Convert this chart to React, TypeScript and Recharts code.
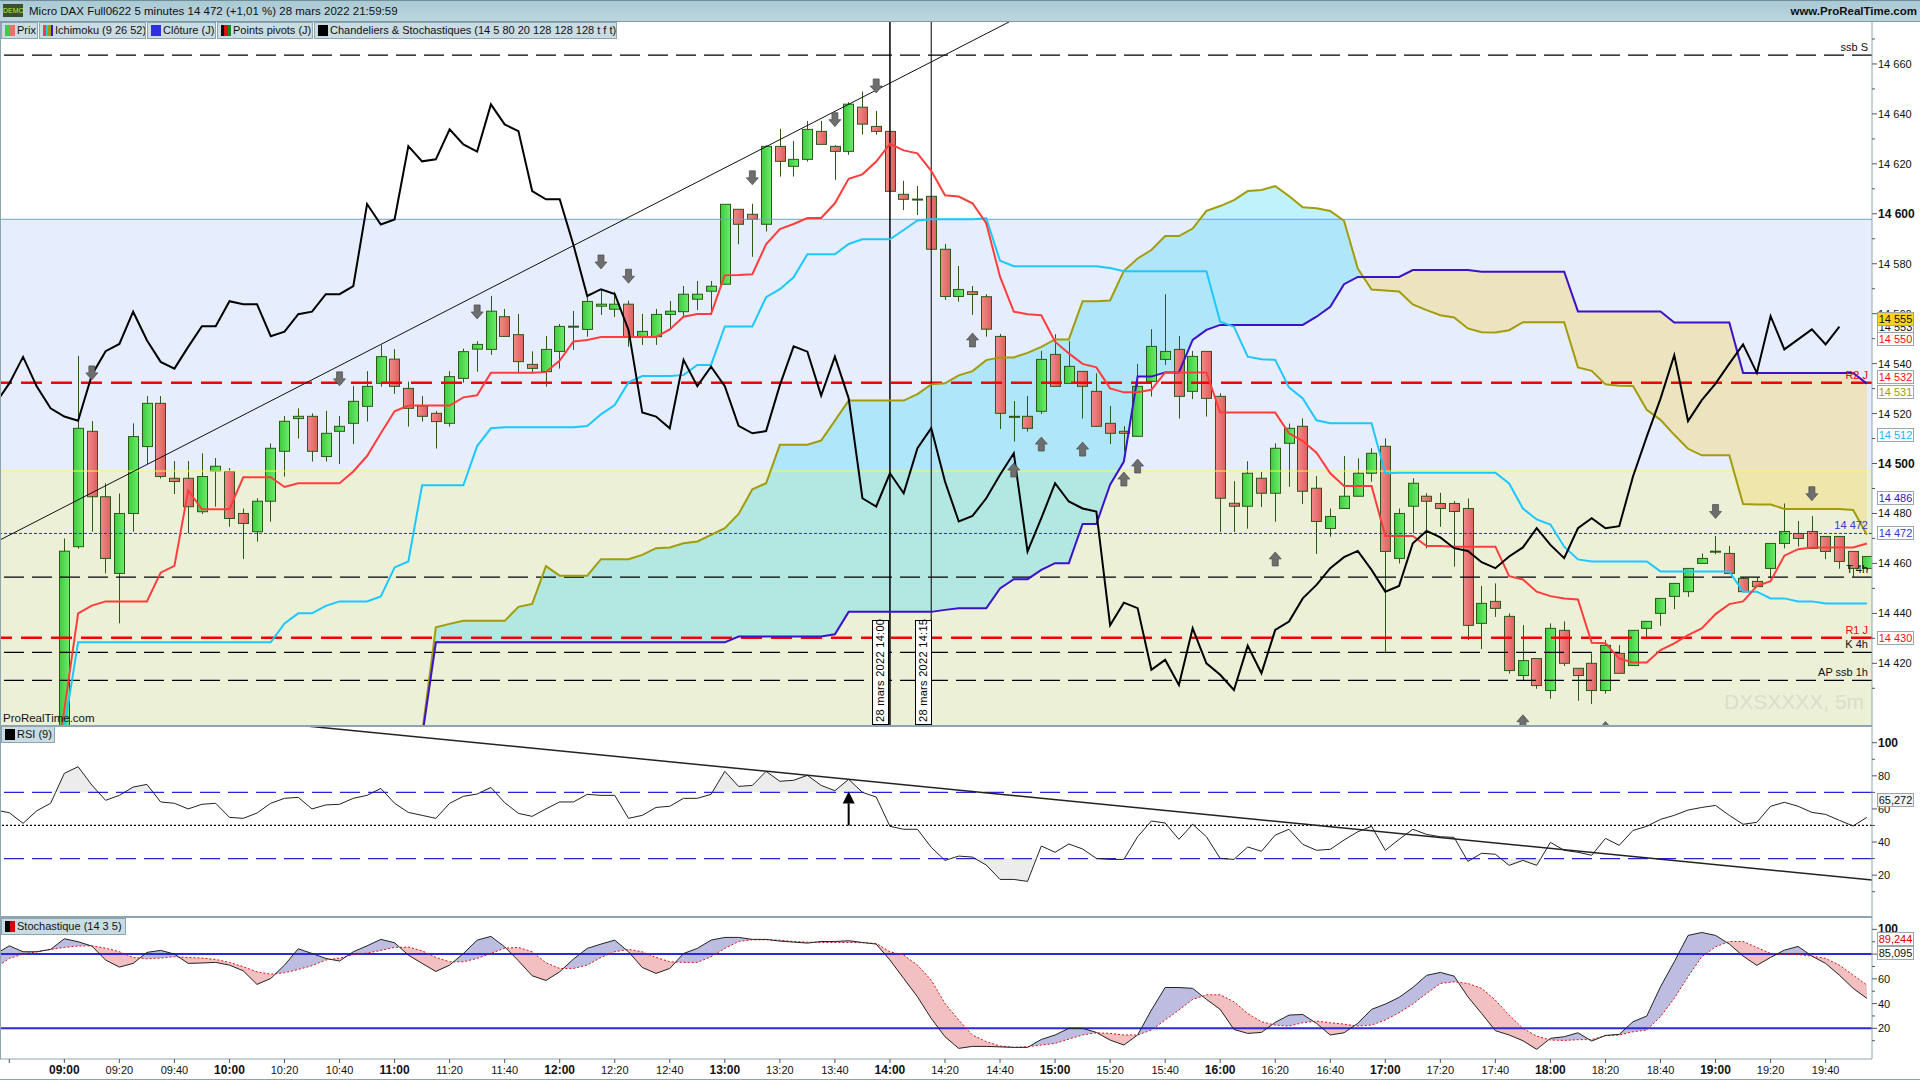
import { Area, Bar, ComposedChart, Line, ReferenceArea, ReferenceLine, XAxis, YAxis } from 'recharts'

// price bars, index 0 = 08:40, one bar every 5 minutes
const barOpen = [null, null, null, null,
  14380, 14466.7, 14512.9, 14486.7, 14456, 14480, 14506.8, 14524.1, 14494.1, 14494.1, 14480.7, 14497, 14496.8, 14480, 14472.7, 14484.9,
  14504.9, 14518, 14518.9, 14502.8, 14512.9, 14516.1, 14522.9, 14532.1, 14541.8, 14530.1, 14523, 14520.1, 14516.1, 14534.1, 14545.8, 14545.7,
  14558.8, 14551.6, 14539.7, 14536.8, 14544.9, 14554.9, 14553.7, 14563, 14561.8, 14563.8, 14550.9, 14550.8, 14559.7, 14560.8, 14565.8, 14569,
  14571.8, 14601.8, 14599.8, 14595.8, 14627, 14619, 14621.8, 14633, 14627, 14625, 14642.7, 14635, 14633, 14607.8, 14605.9, 14607, 14585.8, 14566.9,
  14568.8, 14566.8, 14550.9, 14518.9, 14518.9, 14520.9, 14543.7, 14532.1, 14536.9, 14528.9, 14516.1, 14512.9, 14510.9, 14532.9, 14541.7, 14545.7,
  14528.9, 14544.9, 14526.9, 14484.1, 14482.9, 14494.1, 14488.1, 14508.1, 14514.9, 14490.1, 14474, 14482, 14486.9, 14496.1, 14506.9, 14462,
  14482.9, 14486.9, 14484, 14484, 14482, 14436, 14444.8, 14438.8, 14415.1, 14421.9, 14409.1, 14433.2, 14418, 14420, 14409.1, 14424,
  14419.1, 14434, 14440, 14446.8, 14448.7, 14460, 14464.9, 14464, 14454, 14452.8, 14458, 14468, 14472, 14472.8, 14470.8, 14470.8, 14464.8, 14458]
const barHigh = [null, null, null, null,
  14470, 14543.1, 14517, 14492.1, 14488, 14516.1, 14527, 14527, 14501, 14501, 14504.1, 14502.2, 14498.2, 14482, 14486.1, 14508.1,
  14519, 14522.1, 14520.1, 14521.1, 14519, 14531, 14537, 14547.5, 14545.8, 14532.8, 14527, 14521, 14537, 14546, 14549, 14567.1,
  14561.9, 14559.9, 14544.9, 14551.1, 14555.9, 14561.1, 14566.8, 14569.5, 14568.8, 14565.2, 14559.9, 14561.9, 14565.1, 14571.1, 14573.1, 14573.1,
  14603.8, 14601.8, 14604, 14627.5, 14634, 14629.2, 14637.2, 14637.2, 14627.5, 14644.7, 14649, 14641.2, 14633, 14613.2, 14611.1, 14607, 14587.9, 14579.1,
  14571.1, 14567.8, 14551.9, 14525, 14527, 14545.1, 14551.8, 14549, 14537, 14536.1, 14523, 14515, 14539.9, 14553.8, 14567.8, 14551.1,
  14545.1, 14544.9, 14528.1, 14492.9, 14500.9, 14496.6, 14508.1, 14516, 14518.1, 14495, 14482, 14503, 14502.1, 14506.1, 14510.1, 14482,
  14494.1, 14488.1, 14488.3, 14485, 14486, 14451, 14452, 14440, 14435.3, 14421.9, 14436, 14436.8, 14418, 14424, 14429.3, 14427.3,
  14433.2, 14436.8, 14446, 14452, 14458, 14464, 14471, 14467, 14454.5, 14454.4, 14468, 14484, 14477, 14479, 14470.8, 14470.8, 14464.8, 14462.8]
const barLow = [null, null, null, null,
  14375, 14465.9, 14472.7, 14456, 14436, 14472.7, 14499.8, 14494, 14487.8, 14472.1, 14479.8, 14482.7, 14474.7, 14461.8, 14468.7, 14476.7,
  14494.8, 14510, 14500.8, 14500.8, 14499.8, 14507.8, 14516.8, 14530.8, 14527.9, 14514.8, 14516.8, 14506, 14514.8, 14532.4, 14536.8, 14543.5,
  14550.9, 14536.4, 14536.1, 14530.8, 14538, 14545.5, 14550.8, 14559.5, 14558.7, 14546.8, 14547.5, 14547.5, 14553.7, 14558.8, 14561.5, 14559.9,
  14571.8, 14587.8, 14582.8, 14592.9, 14614.9, 14614.9, 14620.9, 14627.8, 14613.6, 14623.6, 14631.7, 14631.7, 14609, 14601.5, 14599.5, 14585.8, 14565.5, 14564.8,
  14559.5, 14550.8, 14513.8, 14508.8, 14512.8, 14519.8, 14530.9, 14532, 14518, 14514.9, 14507.8, 14504.8, 14510.9, 14526.8, 14539.5, 14518,
  14525.8, 14518.8, 14472.6, 14472.6, 14473.9, 14482.6, 14476.7, 14490.7, 14483.8, 14463.8, 14470.7, 14482, 14486.9, 14492.7, 14424, 14460,
  14472.1, 14466, 14474.7, 14458.7, 14429.3, 14425.7, 14438.6, 14415.9, 14413.3, 14409.8, 14405.8, 14418.9, 14405, 14403.7, 14407.9, 14416,
  14419, 14429.7, 14435, 14441.7, 14446.6, 14460, 14463.7, 14456, 14448.7, 14450.7, 14454, 14466, 14466.7, 14466, 14461.7, 14457.9, 14454.7, 14457.3]
const barClose = [null, null, null, null,
  14464.9, 14514.1, 14486.7, 14462, 14480, 14510.8, 14524.1, 14494.8, 14492.8, 14482.7, 14494.8, 14498.9, 14478, 14476, 14484.9, 14506.1,
  14516.9, 14518.9, 14504.9, 14512.1, 14514.9, 14524.9, 14530.9, 14542.8, 14530.9, 14522.1, 14518.9, 14516.8, 14534.8, 14544.8, 14547.7, 14561,
  14550.9, 14540.8, 14538.1, 14545.7, 14554.9, 14555, 14564.9, 14563.8, 14563.8, 14550.8, 14552.9, 14559.7, 14561, 14567.8, 14567.8, 14571,
  14603.8, 14595.8, 14597.8, 14627, 14621, 14621.8, 14633.8, 14627.8, 14625, 14643.9, 14635.9, 14633, 14609, 14605.8, 14605.8, 14585.8, 14566.9, 14569.7,
  14567.7, 14553.8, 14520.1, 14518.7, 14514.1, 14541.7, 14530.9, 14538.9, 14530.9, 14514.9, 14512.1, 14512.1, 14530.9, 14546.9, 14544.9, 14526.9,
  14542.9, 14526.1, 14486.1, 14482.9, 14496.1, 14488.1, 14506.1, 14514.1, 14488.9, 14476.8, 14478.8, 14486.9, 14496.1, 14504.1, 14464.8, 14480,
  14492.1, 14484.9, 14482, 14480.8, 14435.2, 14444, 14442, 14417.1, 14421.1, 14411.1, 14434, 14420, 14415.1, 14409.1, 14427.2, 14416,
  14433.2, 14436.8, 14446, 14452, 14458, 14462, 14464.8, 14456, 14448.7, 14450.7, 14468, 14472.8, 14470, 14466, 14464.8, 14460.8, 14458, 14462.8]

// ichimoku lines
const tenkan = [null, null, null, 14363,
  14401.6, 14440, 14443.1, 14444.8, 14444.8, 14444.8, 14444.8, 14456.3, 14459, 14489.2, 14481.7, 14481.7, 14481.7, 14494.5, 14494.5, 14494.5,
  14490.6, 14492.1, 14492.1, 14492.1, 14492.1, 14496.8, 14503, 14512.1, 14520.9, 14523.2, 14523.2, 14523.2, 14523.2, 14526.5, 14527.3, 14536.4,
  14536.4, 14536.4, 14536.4, 14536.6, 14541.2, 14548.9, 14549.5, 14550.7, 14550.7, 14550.7, 14550.7, 14550.7, 14553.7, 14558.8, 14559.9, 14559.9,
  14575.4, 14575.5, 14575.8, 14587.8, 14593.9, 14595.9, 14598.3, 14598.3, 14604.2, 14614, 14615.8, 14620.9, 14628, 14625.4, 14624.2, 14617.2, 14607.4, 14606.9,
  14604.2, 14596.2, 14574.8, 14560.8, 14559.8, 14559.4, 14548.8, 14544.1, 14539.9, 14538.5, 14530.1, 14528.5, 14528.5, 14529.5, 14536.5, 14536.5,
  14536.5, 14536.5, 14520.4, 14520.4, 14520.4, 14520.4, 14520.4, 14512.1, 14509, 14504.3, 14496.1, 14491, 14491, 14491, 14471, 14471,
  14471, 14467, 14467, 14466.7, 14466.7, 14466.7, 14466.7, 14454.9, 14453.6, 14448.7, 14446.9, 14446, 14445.6, 14428.2, 14428, 14421.9,
  14420.3, 14420.3, 14425.3, 14428, 14431.3, 14434, 14439.7, 14443.7, 14444.8, 14450.9, 14452.9, 14463.1, 14465.7, 14466.4, 14466.4, 14466.4, 14466.4, 14468]
const kijun = [null, null, null, 14360,
  14394.2, 14428.4, 14428.4, 14428.4, 14428.4, 14428.4, 14428.4, 14428.4, 14428.4, 14428.4, 14428.4, 14428.4, 14428.4, 14428.4, 14428.4, 14428.4,
  14436, 14440, 14440, 14443, 14444.8, 14444.8, 14444.8, 14446.8, 14458.4, 14460.8, 14491.3, 14491.3, 14491.3, 14491.3, 14507, 14514.1,
  14514.5, 14514.5, 14514.5, 14514.5, 14514.5, 14514.5, 14515, 14519.7, 14523.4, 14532.5, 14535, 14535, 14535, 14535.4, 14539.5, 14539.5,
  14554.9, 14554.9, 14554.9, 14566.6, 14569.8, 14574.6, 14583.8, 14583.8, 14583.8, 14587.9, 14589.8, 14589.8, 14589.8, 14593.5, 14597.3, 14597.8, 14597.8, 14597.8,
  14597.8, 14598.2, 14581.2, 14579, 14579, 14579, 14579, 14579, 14579, 14579, 14578.3, 14577, 14577, 14577, 14577, 14577,
  14577, 14577, 14556.8, 14554.8, 14542.8, 14541.8, 14541.5, 14530.5, 14526.1, 14517.3, 14516.1, 14516.1, 14516.1, 14516.1, 14496.1, 14496.3,
  14496.3, 14496.3, 14496.3, 14496.3, 14496.3, 14496.3, 14496.3, 14492, 14482, 14477.6, 14475.6, 14466.7, 14461.6, 14460.8, 14460.8, 14460.8,
  14460.8, 14460.8, 14456.8, 14456.8, 14456.8, 14456.8, 14456.8, 14456.8, 14448.7, 14448.7, 14446, 14446, 14444.8, 14444.8, 14444, 14444, 14444, 14444]
const senkouA = [...Array(30).fill(null),
  14392, 14434.4, 14435.8, 14437, 14437, 14437, 14437, 14442.6, 14443.8, 14458.9, 14455.1, 14455.1, 14455.1, 14461.7, 14461.7, 14461.7, 14463.4, 14466.1, 14466.4, 14468.1, 14468.8, 14471.4,
  14474.1, 14479.8, 14489.7, 14492.1, 14507.5, 14507.5, 14507.5, 14509.2, 14517.2, 14525.2, 14525.2, 14525.2, 14525.2, 14525.2, 14527.8, 14531.7, 14532.1, 14535.3,
  14537, 14541.4, 14542.5, 14542.5, 14544.3, 14546.7, 14549.7, 14549.7, 14565, 14565, 14565.3, 14577.2, 14582.1, 14585.5, 14591.1, 14591.1,
  14594.1, 14601.2, 14603.1, 14605.5, 14609.1, 14609.5, 14611.1, 14607.1, 14602.6, 14602.2, 14601.1, 14597.2, 14578.1, 14569.7, 14569.3, 14568.9,
  14563.7, 14561.4, 14559.4, 14558.5, 14554.1, 14552.6, 14552.5, 14553.4, 14556.6, 14556.6, 14556.6, 14556.6, 14538.5, 14537.1, 14531.7, 14531.1,
  14531, 14521.5, 14517.5, 14511.5, 14505.9, 14503.3, 14503.3, 14503.3, 14483.8, 14483.6, 14483.6, 14481.8, 14481.8, 14481.8, 14481.8, 14481.8, 14481.4, 14471.5]
const senkouB = [...Array(30).fill(null),
  14390.5, 14428.4, 14428.4, 14428.4, 14428.4, 14428.4, 14428.4, 14428.4, 14428.4, 14428.4, 14428.4, 14428.4, 14428.4, 14428.4, 14428.4, 14428.4, 14428.4, 14428.4, 14428.4, 14428.4, 14428.4, 14428.4,
  14428.4, 14430.7, 14430.7, 14430.7, 14430.7, 14430.7, 14430.7, 14430.7, 14431.6, 14440.6, 14440.6, 14440.6, 14440.6, 14440.6, 14440.6, 14440.6, 14441.4, 14442,
  14442, 14442, 14450, 14453.7, 14453.7, 14457.4, 14460.1, 14460.1, 14475.8, 14475.8, 14491.5, 14500.8, 14534.8, 14534.8, 14536.5, 14536.5,
  14549.5, 14553.5, 14555.5, 14555.5, 14555.5, 14555.5, 14555.5, 14555.5, 14555.5, 14558.8, 14562.8, 14571.8, 14574.7, 14574.7, 14574.7, 14574.7,
  14577.5, 14577.5, 14577.5, 14577.5, 14577.5, 14576.8, 14576.8, 14576.8, 14576.8, 14576.8, 14576.8, 14576.8, 14560.9, 14560.9, 14560.9, 14560.9,
  14560.9, 14560.9, 14560.9, 14556.5, 14556.5, 14556.5, 14556.5, 14556.5, 14536.3, 14536.3, 14536.3, 14536.3, 14536.3, 14536.3, 14536.3, 14536.3, 14536.3, 14532]
const chikou = [
  14532.1, 14542.7, 14530.8, 14522.1, 14518.8, 14517.1, 14535.5, 14545, 14547.9, 14560.8, 14549.4, 14540.7, 14538, 14546.7, 14555, 14555, 14565, 14563.8, 14563.8, 14551,
  14552.8, 14559.8, 14560.8, 14567.8, 14567.8, 14571, 14603.9, 14595.7, 14597.7, 14627.1, 14621, 14621.8, 14633.8, 14627.8, 14624.9, 14643.8,
  14635.8, 14633.1, 14609.1, 14605.8, 14605.8, 14587.5, 14567.1, 14569.8, 14567.9, 14553.5, 14520.4, 14518.8, 14514.1, 14541.5, 14531, 14538.8,
  14531, 14515.1, 14512.1, 14513, 14531.4, 14546.9, 14544.8, 14527.2, 14542.8, 14526.1, 14486.1, 14482.8, 14496.1, 14488.1, 14506.1, 14514.2, 14492.8, 14476.8,
  14479, 14486.1, 14495.5, 14504.1, 14464.8, 14478.1, 14492.1, 14484.8, 14482, 14480.8, 14435.2, 14444.3, 14442.1, 14417.4, 14421.4, 14411.3,
  14434, 14420, 14415.4, 14409.3, 14427.1, 14416, 14433.4, 14436.7, 14446, 14451.4, 14458.1, 14462.5, 14465, 14457.4, 14448.7, 14451,
  14468.1, 14473, 14470.4, 14466.1, 14465, 14460.5, 14458.1, 14462.8, 14466.4, 14474.1, 14467.4, 14462.1, 14474.1, 14478.1, 14474.1, 14474.9,
  14494.8, 14510.8, 14526, 14543.4, 14517, 14525.4, 14532, 14540, 14547.7, 14536.3, 14559, 14545.7, 14549.7, 14553.7, 14547.7, 14554.8, null, null]
const chikouLead = 14524

// signal arrows: bar index and price
const arrowDownBars = [6, 24, 34, 43, 45, 54, 60, 63, 124, 131]
const arrowDownPrices = [14536.3, 14533.9, 14560.7, 14580.7, 14575, 14614.4, 14637.7, 14651.2, 14480.8, 14487.9]
const arrowUpBars = [70, 73, 75, 78, 81, 82, 92, 110, 116]
const arrowUpPrices = [14549.5, 14497.4, 14507.8, 14505.8, 14493.8, 14499, 14461.8, 14396.6, 14393.9]

const rsi = [
  57.7, 51.3, 58.9, 63.4, 81.5, 85.5, 74.4, 65.2, 68.2, 73.2, 74.8, 64.2, 63.4, 60, 62.8, 63.4, 54.9, 54.3, 57.5, 63.4,
  66.4, 67, 60, 62.4, 62.8, 66.4, 68.2, 72.4, 63.4, 57.9, 56.1, 54.3, 63.4, 67.6, 69, 73,
  63.8, 57.3, 55.5, 60, 64.2, 64.2, 68.8, 68.2, 68.2, 54.3, 56.1, 60.9, 61.6, 66.4, 66.4, 68.8,
  82.7, 73.6, 74.2, 82.7, 76.7, 77.3, 80.3, 74.2, 71, 77.9, 70, 67.2, 49.5, 47.7, 47.7, 36.8, 28.9, 31.5,
  30.9, 26.1, 17.4, 17.4, 16.2, 37.6, 33.8, 38.8, 35.8, 30.1, 29.5, 29.5, 43.2, 52.7, 51.5, 41.6,
  50.7, 43.2, 30.1, 29.5, 37, 34.4, 44.2, 47.7, 38.6, 35, 35.6, 41.2, 46.2, 49.5, 35, 41.6,
  47.7, 44.6, 43.2, 42.8, 28.3, 33.2, 32.6, 25.9, 28.9, 25.9, 39.8, 35, 33.8, 32, 42.2, 38,
  47, 49.5, 53.7, 56.1, 59.3, 60.9, 62.1, 56.1, 50.7, 51.9, 61.6, 64, 61.6, 57.9, 56.7, 53.1, 49.7, 54.9]
const rsiLead = 59.3
const rsiArrowBar = 61

const stochK = [
  86.7, 81.9, 81.9, 83.8, 92.4, 90, 86.5, 75.2, 69.5, 72.5, 81.4, 83, 80, 72.5, 72.8, 73.3, 71.1, 66.5, 55.5, 60.3,
  71.1, 84.3, 80.5, 76.5, 74.4, 81.9, 86.7, 91.9, 89.2, 79.2, 72.5, 66, 71.1, 80.5, 91.3, 94.3,
  85.9, 74.6, 62.5, 58.7, 65.7, 76, 84.6, 88.1, 91.3, 81.9, 69.2, 64.4, 68.4, 80.5, 84.6, 91.3,
  93.5, 93.5, 91.9, 91.9, 90.5, 89.7, 88.9, 90.2, 90.2, 90.8, 89.4, 88.1, 75.2, 60.3, 45.5, 28, 13.2, 3.8,
  5.4, 5.4, 5, 4.6, 4.6, 11, 14.6, 20, 20, 16.7, 10.5, 6.5, 14.6, 34.8, 53, 53,
  52.3, 43.4, 35.3, 19.1, 15.9, 16.7, 24.8, 30.7, 31.2, 24, 14.6, 16.4, 24, 35.3, 39.6, 45,
  53, 62.8, 65.2, 62.2, 45.5, 32, 18.1, 14.6, 10, 3, 11.9, 13.2, 16.4, 9.7, 14.3, 15.1,
  25.3, 29.9, 53.6, 73.8, 95.1, 97.5, 95.1, 88.1, 78.4, 70.9, 77.3, 83.2, 86.2, 78.4, 72.5, 63, 52.3, 44.2]
const stochD = [
  76.5, 80, 81.9, 83.8, 85.4, 86.5, 86.7, 84.8, 81.9, 77.3, 76.2, 76.8, 77.9, 77.3, 76.8, 75.7, 73.3, 69.8, 65.7, 63.8,
  64.9, 67.6, 70.6, 75.2, 76.8, 79.5, 80.8, 83, 85.4, 85.7, 82.7, 77.3, 73.8, 73.8, 76.5, 80.5,
  84.8, 85.4, 81.9, 73, 68.4, 68.4, 71.1, 77.3, 81.9, 83.8, 81.9, 77.3, 73.8, 73.3, 73.3, 77.9,
  84.6, 90.2, 91.6, 91.6, 91.3, 90.2, 89.7, 89.4, 89.4, 89.4, 89.2, 88.6, 81.9, 79.2, 71.1, 59, 40.1, 26.7,
  14.6, 9.2, 5.7, 4.6, 5.1, 6.5, 7.8, 11.3, 14.6, 16.4, 15.9, 14.6, 14.6, 18.6, 26.7, 34.8,
  43.4, 47.1, 47.1, 41.5, 32, 25.3, 22.6, 21.8, 24.5, 25.9, 24.5, 23.4, 21.8, 22.6, 26.7, 32.6,
  39.6, 48.2, 56.3, 57.6, 56.3, 52.3, 42.8, 30.7, 20, 13.7, 10.5, 10.2, 10.8, 11, 14, 14.6,
  17.2, 18.6, 29.4, 44.2, 61.7, 77.9, 85.9, 90.2, 90.2, 85.4, 80.5, 79.7, 79.7, 78.4, 76.5, 71.1, 63, 55]
const stochLead = [80, 69]

const timeTicks = [0, 4, 8, 12, 16, 20, 24, 28, 32, 36, 40, 44, 48, 52, 56, 60, 64, 68, 72, 76, 80, 84, 88, 92, 96, 100, 104, 108, 112, 116, 120, 124, 128, 132]
const timeLabels = ['', '09:00', '09:20', '09:40', '10:00', '10:20', '10:40', '11:00', '11:20', '11:40', '12:00', '12:20', '12:40', '13:00', '13:20', '13:40', '14:00', '14:20', '14:40', '15:00', '15:20', '15:40', '16:00', '16:20', '16:40', '17:00', '17:20', '17:40', '18:00', '18:20', '18:40', '19:00', '19:20', '19:40']

const priceTicks = [14670, 14660, 14650, 14640, 14630, 14620, 14610, 14600, 14590, 14580, 14570, 14560, 14550, 14540, 14530, 14520, 14510, 14500, 14490, 14480, 14470, 14460, 14450, 14440, 14430, 14420, 14410]
const oscTicks = [100, 90, 80, 70, 60, 50, 40, 30, 20, 10]

const X_DOMAIN = [-0.676, 135.37]
const AXIS_COLOR = '#8ea4ae'
const FONT = '"Liberation Sans", Arial, sans-serif'

const addCrossings = (rows: any[], a: string, b: string) => {
  const out: any[] = []
  rows.forEach((row, n) => {
    const prev = rows[n - 1]
    if (prev && prev[a] != null && prev[b] != null && row[a] != null && row[b] != null) {
      const d0 = prev[a] - prev[b]
      const d1 = row[a] - row[b]
      if (d0 * d1 < 0) {
        const t = d0 / (d0 - d1)
        const v = prev[a] + (row[a] - prev[a]) * t
        out.push({ x: prev.x + (row.x - prev.x) * t, [a]: v, [b]: prev[b] + (row[b] - prev[b]) * t })
      }
    }
    out.push(row)
  })
  return out
}

const priceRows = addCrossings(
  [
    { x: -1, chikou: chikouLead },
    ...chikou.map((c, i) => ({
      x: i,
      chikou: c,
      tenkan: tenkan[i],
      kijun: kijun[i],
      ssa: senkouA[i],
      ssb: senkouB[i],
      open: barOpen[i],
      high: barHigh[i],
      low: barLow[i],
      close: barClose[i],
      arrowDown: arrowDownBars.includes(i) ? arrowDownPrices[arrowDownBars.indexOf(i)] : null,
      arrowUp: arrowUpBars.includes(i) ? arrowUpPrices[arrowUpBars.indexOf(i)] : null,
    })),
  ],
  'ssa',
  'ssb',
)

const rsiBase = [
  { x: -1, rsi: rsiLead, hi: 70, lo: 30 },
  ...rsi.map((v, i) => ({ x: i, rsi: v, hi: 70, lo: 30, arrow: i === rsiArrowBar ? 50 : null })),
]
const rsiRows = addCrossings(addCrossings(rsiBase, 'rsi', 'hi'), 'rsi', 'lo').map((r) => ({ ...r, hi: 70, lo: 30 }))

const stochRows = addCrossings(
  [{ x: -1, k: stochLead[0], d: stochLead[1] }, ...stochK.map((k, i) => ({ x: i, k, d: stochD[i] }))],
  'k',
  'd',
)

const PriceTick = ({ x, y, payload }: any) => {
  const major = payload.value % 20 === 0
  const heavy = payload.value === 14600 || payload.value === 14500
  return (
    <g>
      <line x1={x} x2={x + (major ? 5 : 3)} y1={y} y2={y} stroke='#556' />
      {major && (
        <text x={x + 6} y={y + 4} fontSize={heavy ? 12 : 11} fontWeight={heavy ? 700 : 400} fontFamily={FONT} fill='#111'>
          {String(payload.value).slice(0, 2) + ' ' + String(payload.value).slice(2)}
        </text>
      )}
    </g>
  )
}

const OscTick = ({ x, y, payload, hide }: any) => {
  const major = payload.value % 20 === 0
  const heavy = payload.value === 100
  return (
    <g>
      <line x1={x} x2={x + (major ? 5 : 3)} y1={y} y2={y} stroke='#556' />
      {major && payload.value !== hide && (
        <text x={x + 6} y={y + 4} fontSize={heavy ? 12 : 11} fontWeight={heavy ? 700 : 400} fontFamily={FONT} fill='#111'>
          {payload.value}
        </text>
      )}
    </g>
  )
}

const TimeTick = ({ x, y, payload }: any) => {
  const label = timeLabels[timeTicks.indexOf(payload.value)]
  const hour = label.endsWith(':00')
  return (
    <g>
      <line x1={x} x2={x} y1={y} y2={y + 4} stroke='#556' />
      <text x={x} y={y + 15} textAnchor='middle' fontSize={hour ? 12 : 11} fontWeight={hour ? 700 : 400} fontFamily={FONT} fill='#111'>
        {label}
      </text>
    </g>
  )
}

const Candle = ({ x, y, width, height, payload }: any) => {
  if (payload.open == null || !height) return null
  const { open, high, low, close } = payload
  const perPoint = height / (high - low)
  const top = y + (high - Math.max(open, close)) * perPoint
  const bottom = y + (high - Math.min(open, close)) * perPoint
  const up = close >= open
  const cx = Math.round(x + width / 2) + 0.5
  return (
    <g>
      <line x1={cx} x2={cx} y1={y} y2={y + height} stroke='#2b5a17' />
      <rect
        x={cx - 5}
        y={top}
        width={10}
        height={Math.max(bottom - top, 1)}
        fill={up ? 'url(#candleUp)' : 'url(#candleDown)'}
        stroke='#2b5a17'
        strokeWidth={1}
      />
    </g>
  )
}

const ArrowDot = ({ cx, cy, value, up }: any) => {
  if (value == null || cy == null) return <g />
  const d = up
    ? `M${cx},${cy - 7} L${cx + 6},${cy} L${cx + 3},${cy} L${cx + 3},${cy + 7} L${cx - 3},${cy + 7} L${cx - 3},${cy} L${cx - 6},${cy} Z`
    : `M${cx},${cy + 7} L${cx + 6},${cy} L${cx + 3},${cy} L${cx + 3},${cy - 7} L${cx - 3},${cy - 7} L${cx - 3},${cy} L${cx - 6},${cy} Z`
  return <path d={d} fill='#6e6e6e' stroke='#4a4a4a' strokeWidth={0.7} />
}

const RsiArrow = ({ cx, cy, value }: any) => {
  if (value == null || cy == null) return <g />
  return (
    <g>
      <line x1={cx} x2={cx} y1={cy} y2={cy - 22} stroke='#000' strokeWidth={2} />
      <path d={`M${cx},${cy - 34} L${cx + 6},${cy - 22} L${cx - 6},${cy - 22} Z`} fill='#000' />
    </g>
  )
}

const refLabel = (value: string, fill = '#111') => ({
  value,
  position: 'insideBottomRight' as const,
  offset: 4,
  fontSize: 11,
  fontFamily: FONT,
  fill,
})

const PriceChart = () => (
  <ComposedChart width={1920} height={703} data={priceRows} margin={{ top: 0, right: 0, bottom: 0, left: 0 }}>
    <defs>
      <linearGradient id='candleUp' x1='0' x2='1' y1='0' y2='0'>
        <stop offset='0%' stopColor='#3ecb3e' />
        <stop offset='100%' stopColor='#6cec6c' />
      </linearGradient>
      <linearGradient id='candleDown' x1='0' x2='1' y1='0' y2='0'>
        <stop offset='0%' stopColor='#f08a8a' />
        <stop offset='100%' stopColor='#e05f5f' />
      </linearGradient>
    </defs>
    <XAxis type='number' dataKey='x' domain={X_DOMAIN} allowDataOverflow hide />
    <YAxis
      orientation='right'
      width={48}
      domain={[14395.3, 14676.8]}
      allowDataOverflow
      ticks={priceTicks}
      interval={0}
      tick={<PriceTick />}
      tickLine={false}
      tickSize={0}
      tickMargin={0}
      axisLine={{ stroke: AXIS_COLOR }}
    />
    <ReferenceArea y1={14597.8} y2={14497} fill='#e6edfd' fillOpacity={1} stroke='none' />
    <ReferenceArea y1={14497} y2={14395.3} fill='#ecf0d7' fillOpacity={1} stroke='none' />
    <ReferenceLine y={14597.8} stroke='#6f9ff0' strokeWidth={1} />
    <ReferenceLine y={14497} stroke='#fbfb3c' strokeWidth={1} />
    <Area
      dataKey={(r: any) => (r.ssa == null ? null : [r.ssb, Math.max(r.ssa, r.ssb)])}
      stroke='none'
      fill='rgb(72,218,244)'
      fillOpacity={0.35}
      isAnimationActive={false}
      activeDot={false}
      dot={false}
    />
    <Area
      dataKey={(r: any) => (r.ssa == null ? null : [r.ssa, Math.max(r.ssa, r.ssb)])}
      stroke='none'
      fill='rgb(242,219,129)'
      fillOpacity={0.5}
      isAnimationActive={false}
      activeDot={false}
      dot={false}
    />
    <ReferenceLine y={14663.5} stroke='#000' strokeWidth={1.3} strokeDasharray='20 8' label={refLabel('ssb S')} />
    <ReferenceLine y={14454.5} stroke='#000' strokeWidth={1.3} strokeDasharray='20 8' label={refLabel('T 4h')} />
    <ReferenceLine y={14424.4} stroke='#000' strokeWidth={1.3} strokeDasharray='20 8' label={refLabel('K 4h')} />
    <ReferenceLine y={14413.2} stroke='#000' strokeWidth={1.3} strokeDasharray='20 8' label={refLabel('AP ssb 1h')} />
    <Bar dataKey={(r: any) => (r.open == null ? null : [r.low, r.high])} barSize={10} shape={<Candle />} isAnimationActive={false} />
    <ReferenceLine y={14472} stroke='#2a2ad0' strokeDasharray='3 2' label={refLabel('14 472', '#3535d8')} />
    <ReferenceLine y={14532.3} stroke='#f40000' strokeWidth={2.5} strokeDasharray='21 9' label={refLabel('R2 J', '#f40000')} />
    <ReferenceLine y={14430.2} stroke='#f40000' strokeWidth={2.5} strokeDasharray='21 9' label={refLabel('R1 J', '#f40000')} />
    <ReferenceLine
      segment={[
        { x: -0.676, y: 14469.4 },
        { x: 72.65, y: 14676.8 },
      ]}
      stroke='#111'
    />
    <ReferenceLine x={64} stroke='#000' strokeWidth={1.5} />
    <ReferenceLine x={67} stroke='#000' strokeWidth={1} />
    <Line dataKey='ssa' stroke='#a39c0a' strokeWidth={2} dot={false} activeDot={false} connectNulls isAnimationActive={false} />
    <Line dataKey='ssb' stroke='#3b12c8' strokeWidth={2} dot={false} activeDot={false} connectNulls isAnimationActive={false} />
    <Line dataKey='kijun' stroke='#1cc8ff' strokeWidth={2} dot={false} activeDot={false} connectNulls isAnimationActive={false} />
    <Line dataKey='tenkan' stroke='#ff3d3d' strokeWidth={2} dot={false} activeDot={false} connectNulls isAnimationActive={false} />
    <Line dataKey='chikou' stroke='#000' strokeWidth={2} dot={false} activeDot={false} connectNulls isAnimationActive={false} />
    <Line dataKey='arrowDown' stroke='none' dot={<ArrowDot />} activeDot={false} isAnimationActive={false} />
    <Line dataKey='arrowUp' stroke='none' dot={<ArrowDot up />} activeDot={false} isAnimationActive={false} />
  </ComposedChart>
)

const RsiChart = () => (
  <ComposedChart width={1920} height={192} data={rsiRows} margin={{ top: 0, right: 0, bottom: 0, left: 0 }}>
    <XAxis type='number' dataKey='x' domain={X_DOMAIN} allowDataOverflow hide />
    <YAxis
      orientation='right'
      width={48}
      domain={[-5.3, 110.7]}
      allowDataOverflow
      ticks={oscTicks}
      interval={0}
      tick={<OscTick />}
      tickLine={false}
      tickSize={0}
      tickMargin={0}
      axisLine={{ stroke: AXIS_COLOR }}
    />
    <Area dataKey={(r: any) => [70, Math.max(r.rsi, 70)]} stroke='none' fill='#ececec' fillOpacity={1} dot={false} activeDot={false} isAnimationActive={false} />
    <Area dataKey={(r: any) => [Math.min(r.rsi, 30), 30]} stroke='none' fill='#ececec' fillOpacity={1} dot={false} activeDot={false} isAnimationActive={false} />
    <ReferenceLine y={70} stroke='#2626d8' strokeWidth={1.3} strokeDasharray='20 8' />
    <ReferenceLine y={30} stroke='#2626d8' strokeWidth={1.3} strokeDasharray='20 8' />
    <ReferenceLine y={50} stroke='#000' strokeWidth={1.3} strokeDasharray='2 2' />
    <ReferenceLine
      segment={[
        { x: 20.84, y: 110.7 },
        { x: 135.37, y: 17.04 },
      ]}
      stroke='#222'
      strokeWidth={1.5}
    />
    <Line dataKey='rsi' stroke='#222' strokeWidth={1} dot={false} activeDot={false} connectNulls isAnimationActive={false} />
    <Line dataKey='arrow' stroke='none' dot={<RsiArrow />} activeDot={false} isAnimationActive={false} />
  </ComposedChart>
)

const StochChart = () => (
  <ComposedChart width={1920} height={163} data={stochRows} margin={{ top: 0, right: 0, bottom: 0, left: 0 }}>
    <XAxis
      type='number'
      dataKey='x'
      domain={X_DOMAIN}
      allowDataOverflow
      ticks={timeTicks}
      interval={0}
      height={21}
      tick={<TimeTick />}
      tickLine={false}
      tickSize={0}
      tickMargin={0}
      axisLine={{ stroke: AXIS_COLOR }}
    />
    <YAxis
      orientation='right'
      width={48}
      domain={[-4.8, 110]}
      allowDataOverflow
      ticks={oscTicks}
      interval={0}
      tick={<OscTick hide={80} />}
      tickLine={false}
      tickSize={0}
      tickMargin={0}
      axisLine={{ stroke: AXIS_COLOR }}
    />
    <Area dataKey={(r: any) => [r.d, Math.max(r.k, r.d)]} stroke='none' fill='#bcbde0' fillOpacity={1} dot={false} activeDot={false} isAnimationActive={false} />
    <Area dataKey={(r: any) => [r.k, Math.max(r.k, r.d)]} stroke='none' fill='#f2c0c0' fillOpacity={1} dot={false} activeDot={false} isAnimationActive={false} />
    <ReferenceLine y={80} stroke='#2a2ad8' strokeWidth={2} />
    <ReferenceLine y={20} stroke='#2a2ad8' strokeWidth={2} />
    <Line dataKey='d' stroke='#e01010' strokeWidth={1} strokeDasharray='2 2' dot={false} activeDot={false} connectNulls isAnimationActive={false} />
    <Line dataKey='k' stroke='#222' strokeWidth={1} dot={false} activeDot={false} connectNulls isAnimationActive={false} />
  </ComposedChart>
)

// value boxes on the right axes
const priceTags = [
  { text: '14 553', top: 327, color: '#111', bg: '#fff' },
  { text: '14 555', top: 319, color: '#111', bg: '#ffd21a' },
  { text: '14 550', top: 339, color: '#f01010', bg: '#fff' },
  { text: '14 532', top: 377, color: '#f01010', bg: '#fff' },
  { text: '14 531', top: 392, color: '#a39c0a', bg: '#fff' },
  { text: '14 512', top: 435, color: '#14b8f0', bg: '#fff' },
  { text: '14 486', top: 498, color: '#3b12c8', bg: '#fff' },
  { text: '14 472', top: 533, color: '#3535d8', bg: '#fff' },
  { text: '14 430', top: 638, color: '#f01010', bg: '#fff' },
  { text: '65,272', top: 800, color: '#111', bg: '#f2f2f2' },
  { text: '89,244', top: 939, color: '#d80000', bg: '#fff' },
  { text: '85,095', top: 953, color: '#111', bg: '#fff' },
]

const legendItems = [
  { text: 'Prix', left: 1, width: 37, colors: ['#45c845', '#e87070'] },
  { text: 'Ichimoku (9 26 52)', left: 39, width: 107, colors: ['#ff3d3d', '#1cc8ff', '#a39c0a', '#3b12c8'] },
  { text: 'Clôture (J)', left: 147, width: 69, colors: ['#3030e0'] },
  { text: 'Points pivots (J)', left: 217, width: 96, colors: ['#111', '#e01010', '#118811'] },
  { text: 'Chandeliers & Stochastiques (14 5 80 20 128 128 128 t f t)', left: 314, width: 303, colors: ['#000'] },
]

const labelBox = (left: number, top: number, width: number, height: number): any => ({
  position: 'absolute',
  left,
  top,
  width,
  height,
  boxSizing: 'border-box',
  background: '#c9dbe3',
  border: '1px solid #8ea4ae',
  font: `11px ${FONT}`,
  color: '#111',
  lineHeight: '15px',
  whiteSpace: 'nowrap',
  overflow: 'hidden',
})

const Swatch = ({ colors, width = 10 }: { colors: string[]; width?: number }) => (
  <span style={{ display: 'inline-flex', width, height: 11, verticalAlign: -2, margin: '0 2px 0 3px' }}>
    {colors.map((c) => (
      <span key={c} style={{ flex: 1, background: c }} />
    ))}
  </span>
)

const CursorLabel = ({ text, left }: { text: string; left: number }) => (
  <div
    style={{
      position: 'absolute',
      left,
      top: 620,
      width: 17,
      height: 105,
      boxSizing: 'border-box',
      background: '#fff',
      border: '1px solid #000',
      writingMode: 'vertical-rl',
      transform: 'rotate(180deg)',
      font: `11px ${FONT}`,
      letterSpacing: 0.3,
      lineHeight: '15px',
      textAlign: 'left',
      paddingTop: 2,
      whiteSpace: 'nowrap',
      color: '#000',
    }}
  >
    {text}
  </div>
)

export default function App() {
  return (
    <div style={{ position: 'absolute', left: 0, top: 0, width: 1920, height: 1080, background: '#fff', overflow: 'hidden' }}>
      <style>{'body{margin:0}'}</style>
      <div style={{ position: 'absolute', left: 0, top: 22 }}>
        <PriceChart />
      </div>
      <div style={{ position: 'absolute', left: 0, top: 725 }}>
        <RsiChart />
      </div>
      <div style={{ position: 'absolute', left: 0, top: 917 }}>
        <StochChart />
      </div>

      <div
        style={{
          position: 'absolute',
          left: 0,
          top: 0,
          width: 1920,
          height: 22,
          boxSizing: 'border-box',
          background: 'linear-gradient(#a9c9d4, #bcd6df)',
          borderTop: '1px solid #6f8e9c',
          borderBottom: '1px solid #7d98a4',
          font: `11.5px ${FONT}`,
          lineHeight: '20px',
          color: '#111',
        }}
      >
        <span style={{ position: 'absolute', left: 3, top: 3, width: 20, height: 13, background: '#3d4f2f', color: '#b7f03a', font: `7px ${FONT}`, lineHeight: '13px', textAlign: 'center' }}>
          DEMO
        </span>
        <span style={{ position: 'absolute', left: 29, whiteSpace: 'nowrap' }}>Micro DAX Full0622 5 minutes 14 472 (+1,01 %) 28 mars 2022 21:59:59</span>
        <span style={{ position: 'absolute', right: 3, fontWeight: 700, whiteSpace: 'nowrap' }}>www.ProRealTime.com</span>
      </div>

      {legendItems.map((item) => (
        <div key={item.text} style={labelBox(item.left, 22, item.width, 17)}>
          <Swatch colors={item.colors} />
          {item.text}
        </div>
      ))}
      <div style={labelBox(1, 726, 54, 17)}>
        <Swatch colors={['#000']} />
        RSI (9)
      </div>
      <div style={labelBox(1, 918, 125, 17)}>
        <Swatch colors={['#000', '#d80000']} />
        Stochastique (14 3 5)
      </div>

      <div style={{ position: 'absolute', left: 3, top: 712, font: `11.5px ${FONT}`, color: '#111' }}>ProRealTime.com</div>
      <div style={{ position: 'absolute', left: 1724, top: 690, font: `21px ${FONT}`, color: '#d9dfc8', whiteSpace: 'nowrap' }}>DXSXXXX, 5m</div>

      <CursorLabel text='28 mars 2022 14:00' left={872} />
      <CursorLabel text='28 mars 2022 14:15' left={915} />

      {priceTags.map((tag) => (
        <div
          key={tag.text}
          style={{
            position: 'absolute',
            left: 1877,
            top: tag.top - 7,
            width: 37,
            height: 14,
            boxSizing: 'border-box',
            background: tag.bg,
            border: '1px solid #9aa6ac',
            color: tag.color,
            font: `11px ${FONT}`,
            lineHeight: '12px',
            textAlign: 'center',
          }}
        >
          {tag.text}
        </div>
      ))}

      <div style={{ position: 'absolute', left: 0, top: 725, width: 1872, height: 2, background: AXIS_COLOR }} />
      <div style={{ position: 'absolute', left: 0, top: 916, width: 1872, height: 2, background: AXIS_COLOR }} />
      <div style={{ position: 'absolute', left: 0, top: 1079, width: 1920, height: 1, background: AXIS_COLOR }} />
      <div style={{ position: 'absolute', left: 0, top: 22, width: 1, height: 1037, background: AXIS_COLOR }} />
    </div>
  )
}
